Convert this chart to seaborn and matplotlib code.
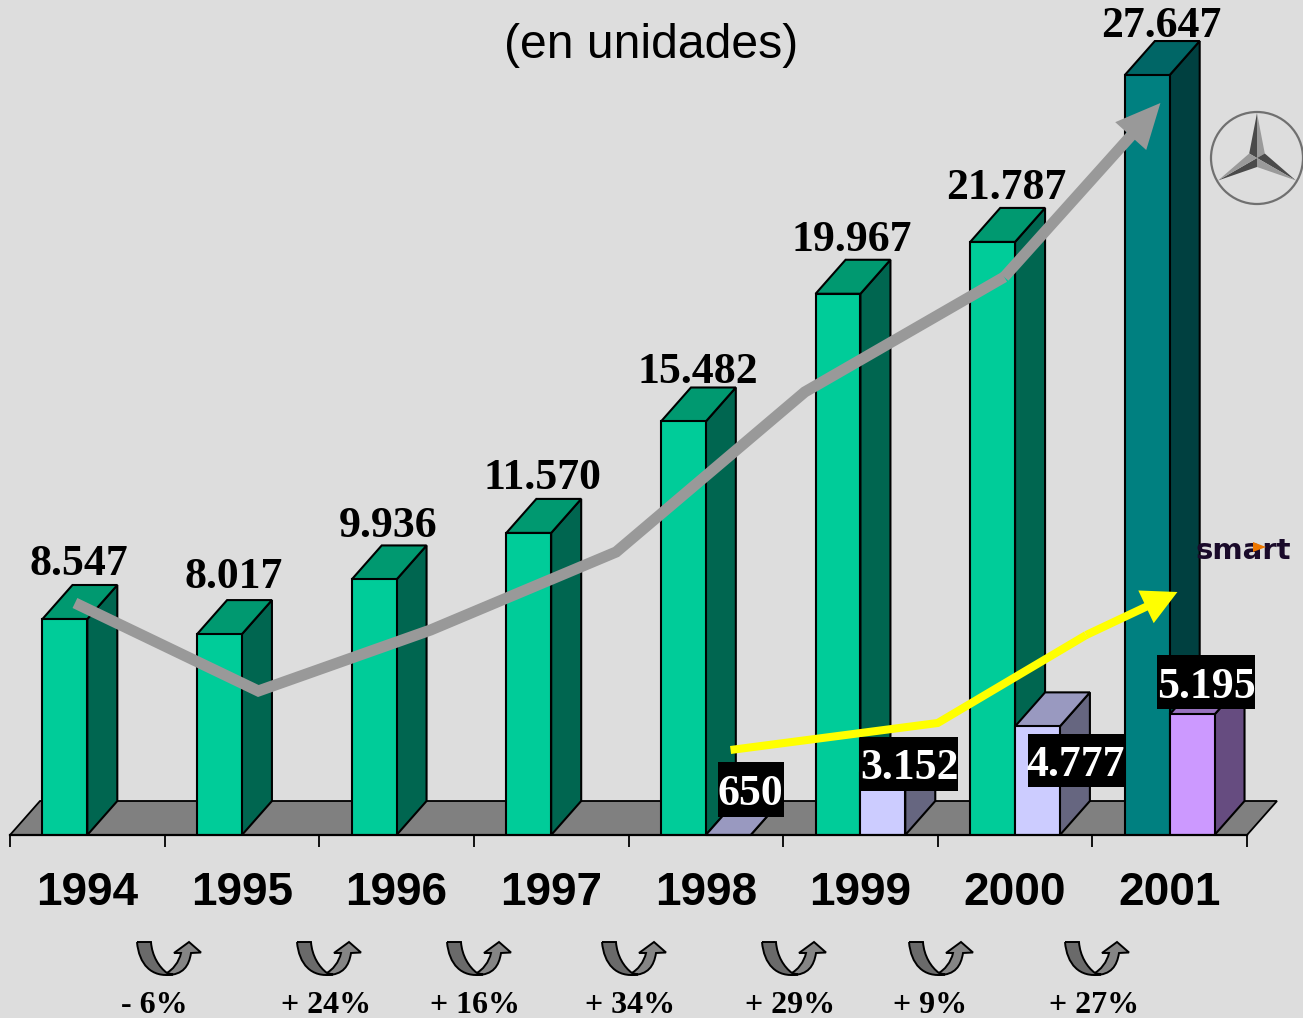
import numpy as np
import pandas as pd
import matplotlib
matplotlib.use("Agg")
import matplotlib.pyplot as plt
from matplotlib.patches import Polygon, Circle, PathPatch, Rectangle
from matplotlib.path import Path
from matplotlib.transforms import Affine2D
import seaborn as sns

# ---------- data ----------
years = ["1994", "1995", "1996", "1997", "1998", "1999", "2000", "2001"]
mercedes = [8547, 8017, 9936, 11570, 15482, 19967, 21787, 27647]
smart_cars = [np.nan, np.nan, np.nan, np.nan, 650, 3152, 4777, 5195]
mercedes_labels = ["8.547", "8.017", "9.936", "11.570", "15.482", "19.967", "21.787", "27.647"]
smart_labels = ["650", "3.152", "4.777", "5.195"]
growth_labels = ["- 6%", "+ 24%", "+ 16%", "+ 34%", "+ 29%", "+ 9%", "+ 27%"]
trend_x = [-0.08, 1.106, 2.22, 3.42, 4.64, 5.93, 6.94]
trend_y = [9109, 6019, 8161, 10900, 16518, 20556, 26665]
smart_trend_x = [4.16, 5.50, 6.46, 7.05]
smart_trend_y = [3948, 4896, 7985, 9495]

# ---------- style / layout ----------
W, H = 1303, 1018
BG = "#DDDDDD"
Y_BASE = 963
Y_TOP = 963 + 835 / 0.02848
DX, DY = 0.194, 1194
FRONT = {"m": "#00CC99", "m01": "#008080", "s": "#CCCCFF", "s01": "#CC99FF"}
SIDE = {"m": "#006650", "m01": "#004040", "s": "#666680", "s01": "#664C80"}
TOP = {"m": "#009970", "m01": "#006666", "s": "#9999C0", "s01": "#9973BF"}
SERIF = "Liberation Serif"
SANS = "Liberation Sans"
label_dy = [55, 57, 53, 55, 49, 54, 54, 49]

sns.set_theme(style="white")
plt.rcParams["font.family"] = SANS
fig = plt.figure(figsize=(W / 100, H / 100), dpi=100, facecolor=BG)
ax = fig.add_axes([10 / W, (H - 835) / H, 1237 / W, 835 / H])
ax.patch.set_alpha(0)
px = Affine2D().scale(1 / W, -1 / H).translate(0, 1) + fig.transFigure

df = pd.DataFrame({
    "year": years * 2,
    "series": ["Mercedes"] * 8 + ["smart"] * 8,
    "units": mercedes + smart_cars,
})
sns.barplot(data=df, x="year", y="units", hue="series", order=years,
            hue_order=["Mercedes", "smart"], palette=[FRONT["m"], FRONT["s"]],
            width=0.58, gap=0, saturation=1, edgecolor="black", linewidth=1.5,
            legend=False, ax=ax, zorder=5)
ax.set_xlim(-0.5, 7.5)
ax.set_ylim(Y_BASE, Y_TOP)
ax.set_xlabel("")
ax.set_ylabel("")
ax.set_yticks([])
for s in ["top", "left", "right"]:
    ax.spines[s].set_visible(False)
ax.spines["bottom"].set_linewidth(1.6)
ax.spines["bottom"].set_color("black")
ax.spines["bottom"].set_zorder(30)
ax.tick_params(axis="x", which="major", length=0, pad=26)
ax.set_xticks(np.arange(len(years)))
ax.set_xticklabels(years, fontsize=33, fontweight="bold", color="black", family=SANS)
ax.set_xticks(np.arange(-0.5, 8), minor=True)
ax.tick_params(axis="x", which="minor", length=8.6, width=1.3, color="black", bottom=True)

# floor
ax.add_patch(Polygon([(-0.5, Y_BASE), (-0.5 + DX, Y_BASE + DY), (7.5 + DX, Y_BASE + DY), (7.5, Y_BASE)],
                     closed=True, fc="#808080", ec="black", lw=1.3, zorder=1, clip_on=False))

# 3D faces of the bars
bars = []
for cont in ax.containers:
    bars.extend(b for b in cont if np.isfinite(b.get_height()) and b.get_height() > 0)
bars.sort(key=lambda b: b.get_x())
z = 6
m_bars = []
for b in bars:
    x0, w, v = b.get_x(), b.get_width(), b.get_height()
    cat = int(round(x0 + w / 2 + 0.1))
    is_m = x0 + w / 2 < cat
    if is_m:
        m_bars.append(b)
    key = ("m" if is_m else "s") + ("01" if years[cat] == "2001" else "")
    b.set_facecolor(FRONT[key])
    b.set_zorder(z + 1)
    top = max(v, Y_BASE)
    x1 = x0 + w
    ax.add_patch(Polygon([(x1, Y_BASE), (x1 + DX, Y_BASE + DY), (x1 + DX, top + DY), (x1, top)],
                         closed=True, fc=SIDE[key], ec="black", lw=1.5, zorder=z, clip_on=False))
    ax.add_patch(Polygon([(x0, top), (x0 + DX, top + DY), (x1 + DX, top + DY), (x1, top)],
                         closed=True, fc=TOP[key], ec="black", lw=1.5, zorder=z, clip_on=False))
    z += 2

# value labels Mercedes
for b, lab, dy in zip(m_bars, mercedes_labels, label_dy):
    ax.annotate(lab, (b.get_x() + b.get_width() / 2, b.get_height()),
                xytext=(14 * .72, dy * .72), textcoords="offset points",
                ha="center", va="center", family=SERIF, fontweight="bold", fontsize=31.5,
                color="black", zorder=60, annotation_clip=False)

# trend lines
ax.plot(trend_x[:-1], trend_y[:-1], color="#999999", lw=8, solid_joinstyle="miter",
        solid_capstyle="butt", zorder=40)
ax.annotate("", xy=(trend_x[-1], trend_y[-1]), xytext=(trend_x[-2], trend_y[-2]),
            arrowprops=dict(arrowstyle="simple,head_length=32,head_width=30,tail_width=8",
                            mutation_scale=1, fc="#999999", ec="none", lw=0, shrinkA=0, shrinkB=0),
            zorder=40)
ax.plot(smart_trend_x[:-1], smart_trend_y[:-1], color="#FFFF00", lw=5.8, solid_joinstyle="miter",
        solid_capstyle="butt", zorder=41)
ax.annotate("", xy=(smart_trend_x[-1], smart_trend_y[-1]), xytext=(smart_trend_x[-2], smart_trend_y[-2]),
            arrowprops=dict(arrowstyle="simple,head_length=25,head_width=26,tail_width=5.8",
                            mutation_scale=1, fc="#FFFF00", ec="none", lw=0, shrinkA=0, shrinkB=0),
            zorder=41)

# smart value labels with black boxes
smart_boxes = [(718, 762, 784, 817), (860, 737, 958, 791), (1028, 734, 1125, 787), (1157, 655, 1255, 709)]
smart_text_xy = [(750.5, 805), (909, 779), (1076, 776), (1206, 698)]
for lab, (l, t, r, bt), (lx, ly) in zip(smart_labels, smart_boxes, smart_text_xy):
    ax.add_patch(Rectangle((l, t), r - l, bt - t, fc="black", ec="none", transform=px,
                           clip_on=False, zorder=69))
    ax.text(lx, ly, lab, transform=px, ha="center", va="baseline", family=SERIF,
            fontweight="bold", fontsize=31.5, color="white", zorder=70, clip_on=False)

# title
ax.text(651, 45, "(en unidades)", transform=px, ha="center", va="center", fontsize=34.7,
        family=SANS, color="black", clip_on=False)

# curved growth arrows
arrow_x = [137, 297, 447, 602, 762, 909, 1065]
label_x = [154, 326, 475, 630, 790, 930, 1094]
arrow_y = 942
L = [(0, 0), (14, 0), (15, 14), (22, 25), (30, 31), (36, 32.5),
     (14, 36), (2, 22), (0, 0)]
L_codes = [Path.MOVETO, Path.LINETO, Path.CURVE4, Path.CURVE4, Path.CURVE4, Path.LINETO,
           Path.CURVE4, Path.CURVE4, Path.CURVE4]
R = [(28, 32), (36, 28), (42, 20), (44, 11), (37, 11), (52, 0), (64, 10.5), (54, 11),
     (52, 24), (46, 33), (30, 33), (28, 32)]
R_codes = [Path.MOVETO, Path.CURVE4, Path.CURVE4, Path.CURVE4, Path.LINETO, Path.LINETO,
           Path.LINETO, Path.LINETO, Path.CURVE4, Path.CURVE4, Path.CURVE4, Path.CLOSEPOLY]
for ox, tx, lab in zip(arrow_x, label_x, growth_labels):
    for verts, codes, col in [(R, R_codes, "#858585"), (L, L_codes, "#6A6A6A")]:
        p = Path([(ox + a, arrow_y + b) for a, b in verts], codes)
        ax.add_patch(PathPatch(p, fc=col, ec="black", lw=1.4, transform=px, clip_on=False, zorder=50))
    ax.text(tx, 1006, lab, transform=px, ha="center", va="center", family=SERIF,
            fontweight="bold", fontsize=23, color="black", clip_on=False)

# Mercedes star emblem
cx, cy = 1257, 158
ax.add_patch(Circle((cx, cy), 46, fc="none", ec="#707070", lw=1.6, transform=px, clip_on=False, zorder=50))
for ang in (90, 210, 330):
    tip = (cx + 45 * np.cos(np.radians(ang)), cy - 45 * np.sin(np.radians(ang)))
    a = (cx + 9 * np.cos(np.radians(ang + 60)), cy - 9 * np.sin(np.radians(ang + 60)))
    b = (cx + 9 * np.cos(np.radians(ang - 60)), cy - 9 * np.sin(np.radians(ang - 60)))
    ax.add_patch(Polygon([tip, a, (cx, cy)], closed=True, fc="#4A4A4A", ec="none", transform=px, clip_on=False, zorder=50))
    ax.add_patch(Polygon([tip, b, (cx, cy)], closed=True, fc="#9A9A9A", ec="none", transform=px, clip_on=False, zorder=50))

# smart wordmark
ax.text(1243, 551, "smart", transform=px, ha="center", va="center", family="DejaVu Sans",
        fontweight="bold", fontsize=21, color="#1A0A2A", clip_on=False, zorder=50)
ax.add_patch(Polygon([(1253, 542), (1253, 552), (1266, 547)], closed=True, fc="#EE7700", ec="none",
                     transform=px, clip_on=False, zorder=51))

fig.savefig("out.png", dpi=100, facecolor=BG)
